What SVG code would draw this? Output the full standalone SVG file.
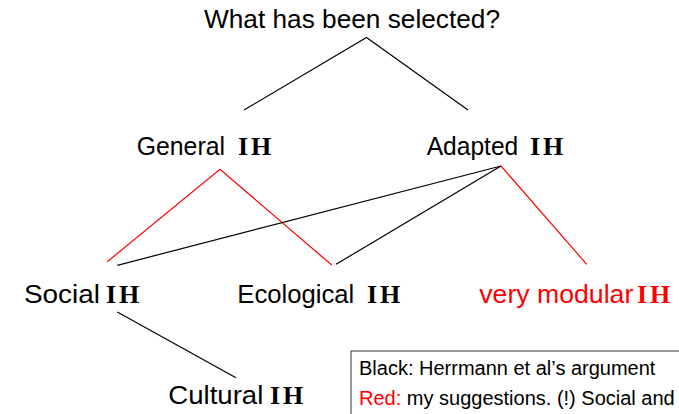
<svg xmlns="http://www.w3.org/2000/svg" width="679" height="414" viewBox="0 0 679 414">
<style>
.t{font-family:"Liberation Sans",Arial,sans-serif;font-size:26px;fill:#000}
.ih{font-family:"Liberation Serif","Times New Roman",serif;font-size:26px;font-weight:bold;letter-spacing:3px;fill:#000}
.red{fill:#ff0000}
.bk{stroke:#000;stroke-width:1.2;fill:none}
.rd{stroke:#ff0000;stroke-width:1.2;fill:none}
.n{font-family:"Liberation Sans",Arial,sans-serif;font-size:20px;fill:#000}
</style>
<rect width="679" height="414" fill="#fff"/>
<g id="connectors">
<polyline class="bk" points="244,110 366.5,37.5 468,110"/>
<polyline class="rd" points="107.3,261.7 220,169.3 331.7,265"/>
<line class="bk" x1="117.3" y1="265.3" x2="501" y2="166"/>
<line class="bk" x1="336" y1="264.3" x2="501" y2="166"/>
<line class="rd" x1="501" y1="166" x2="586.7" y2="264.3"/>
<line class="bk" x1="117.3" y1="312" x2="236" y2="377.7"/>
</g>
<g id="root"><text class="t" x="204" y="28" textLength="296" lengthAdjust="spacingAndGlyphs">What has been selected?</text></g>
<g id="general"><text class="t" x="136.7" y="155" textLength="88.3" lengthAdjust="spacingAndGlyphs">General</text><text class="ih" x="238" y="155">IH</text></g>
<g id="adapted"><text class="t" x="426.7" y="155" textLength="91.6" lengthAdjust="spacingAndGlyphs">Adapted</text><text class="ih" x="530" y="155">IH</text></g>
<g id="social"><text class="t" x="24" y="303" textLength="76" lengthAdjust="spacingAndGlyphs">Social</text><text class="ih" x="106" y="303">IH</text></g>
<g id="ecological"><text class="t" x="237.3" y="303" textLength="117" lengthAdjust="spacingAndGlyphs">Ecological</text><text class="ih" x="367" y="303">IH</text></g>
<g id="modular"><text class="t red" x="479.3" y="303" textLength="154" lengthAdjust="spacingAndGlyphs">very modular</text><text class="ih red" x="637" y="303">IH</text></g>
<g id="cultural"><text class="t" x="168.3" y="404" textLength="95" lengthAdjust="spacingAndGlyphs">Cultural</text><text class="ih" x="270" y="404">IH</text></g>
<g id="legend">
<rect x="351" y="351" width="340" height="80" fill="#fff" stroke="#333" stroke-width="1"/>
<text class="n" x="359" y="375">Black: Herrmann et al’s argument</text>
<text class="n" x="359" y="405"><tspan class="red">Red:</tspan> my suggestions. (!) Social and</text>
</g>
</svg>
